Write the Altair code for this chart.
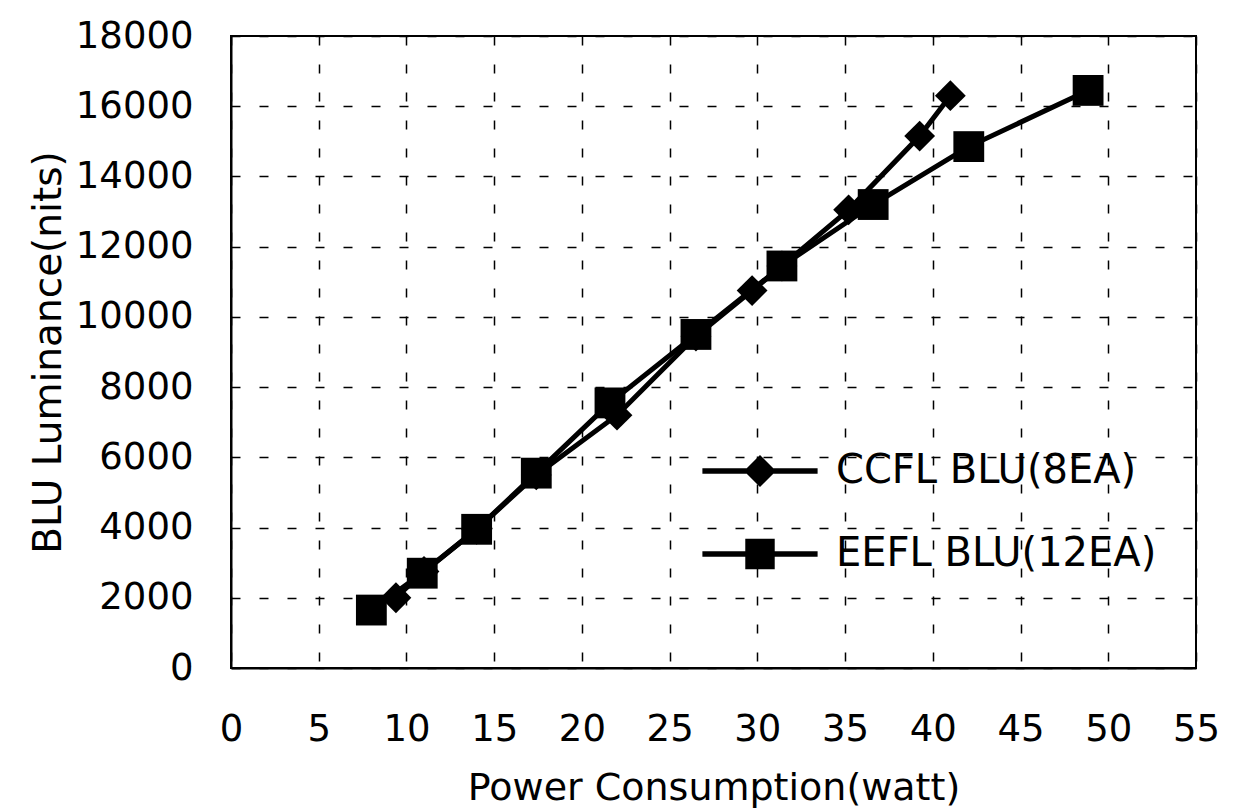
import altair as alt
import pandas as pd

# --- data ---
ccfl_power = [9.4, 11.0, 14.0, 17.4, 22.0, 26.5, 29.7, 31.4, 35.2, 39.25, 41.0]
ccfl_lum = [2000, 2750, 3950, 5500, 7200, 9450, 10750, 11450, 13050, 15150, 16300]
eefl_power = [8.0, 10.9, 14.0, 17.4, 21.6, 26.5, 31.4, 36.6, 42.05, 48.85]
eefl_lum = [1650, 2700, 3950, 5550, 7550, 9500, 11450, 13200, 14850, 16450]

series_names = ["CCFL BLU(8EA)", "EEFL BLU(12EA)"]
x_ticks = list(range(0, 60, 5))
y_ticks = list(range(0, 20000, 2000))

rows = []
for p, l in zip(ccfl_power, ccfl_lum):
    rows.append({"power": p, "lum": l, "series": series_names[0], "ord": 0})
for p, l in zip(eefl_power, eefl_lum):
    rows.append({"power": p, "lum": l, "series": series_names[1], "ord": 1})
df = pd.DataFrame(rows)

FONT = "DejaVu Sans"

# legend symbols: line with marker in the middle (unit coords, scaled by sqrt(size)/2)
diamond_path = ("M-3.6,-0.17 L-0.83,-0.17 L0,-1 L0.83,-0.17 L3.6,-0.17 L3.6,0.17 "
                "L0.83,0.17 L0,1 L-0.83,0.17 L-3.6,0.17 Z")
square_path = ("M-3.6,-0.17 L-0.92,-0.17 L-0.92,-0.95 L0.92,-0.95 L0.92,-0.17 L3.6,-0.17 "
               "L3.6,0.17 L0.92,0.17 L0.92,0.95 L-0.92,0.95 L-0.92,0.17 L-3.6,0.17 Z")

x_enc = alt.X(
    "power:Q",
    scale=alt.Scale(domain=[0, 55], nice=False, zero=False),
    axis=alt.Axis(
        title="Power Consumption(watt)",
        values=x_ticks,
        format="d",
        ticks=False,
        labelFlush=False,
        labelPadding=43,
        labelFontSize=37,
        labelFont=FONT,
        labelColor="black",
        titleFontSize=38,
        titleFont=FONT,
        titleFontWeight="normal",
        titleColor="black",
        titleBaseline="alphabetic",
        titleY=131,
        domainColor="black",
        domainWidth=2,
        grid=True,
        gridColor="black",
        gridDash=[9, 19],
        gridWidth=1.5,
        gridOpacity=1,
    ),
)
y_enc = alt.Y(
    "lum:Q",
    scale=alt.Scale(domain=[0, 18000], nice=False),
    axis=alt.Axis(
        title="BLU Luminance(nits)",
        values=y_ticks,
        format="d",
        ticks=False,
        labelFlush=False,
        labelPadding=38,
        labelFontSize=37,
        labelFont=FONT,
        labelColor="black",
        titleFontSize=39,
        titleFont=FONT,
        titleFontWeight="normal",
        titleColor="black",
        titleBaseline="alphabetic",
        titleX=-171,
        domainColor="black",
        domainWidth=2,
        grid=True,
        gridColor="black",
        gridDash=[9, 19],
        gridWidth=1.5,
        gridOpacity=1,
    ),
)

lines = alt.Chart(df).mark_line(color="black", strokeWidth=5).encode(
    x=x_enc, y=y_enc, detail="series:N", order="power:Q"
)

points = alt.Chart(df).mark_point(filled=True, color="black", opacity=1, size=950).encode(
    x="power:Q",
    y="lum:Q",
    shape=alt.Shape(
        "series:N",
        scale=alt.Scale(domain=series_names, range=["diamond", "square"]),
        legend=None,
    ),
    order="ord:Q",
)

legend_layer = alt.Chart(df).mark_point(filled=True, color="black", opacity=0).encode(
    x="power:Q",
    y="lum:Q",
    shape=alt.Shape(
        "series:N",
        title=None,
        scale=alt.Scale(domain=series_names, range=[diamond_path, square_path]),
        legend=alt.Legend(
            orient="none",
            legendX=509,
            legendY=415,
            symbolSize=1024,
            symbolOpacity=1,
            symbolFillColor="black",
            symbolStrokeWidth=0,
            labelOffset=56,
            labelFontSize=40,
            labelFont=FONT,
            labelColor="black",
            labelLimit=600,
            rowPadding=43,
            padding=0,
        ),
    ),
)

chart = (
    alt.layer(lines, points, legend_layer)
    .resolve_scale(shape="independent")
    .properties(
        width=965,
        height=632,
        autosize=alt.AutoSizeParams(type="none"),
        padding={"left": 231, "top": 36, "right": 57, "bottom": 140},
        background="white",
    )
    .configure_view(stroke="black", strokeWidth=2)
)

chart.save("out.html", embed_options={"renderer": "svg", "actions": False})
